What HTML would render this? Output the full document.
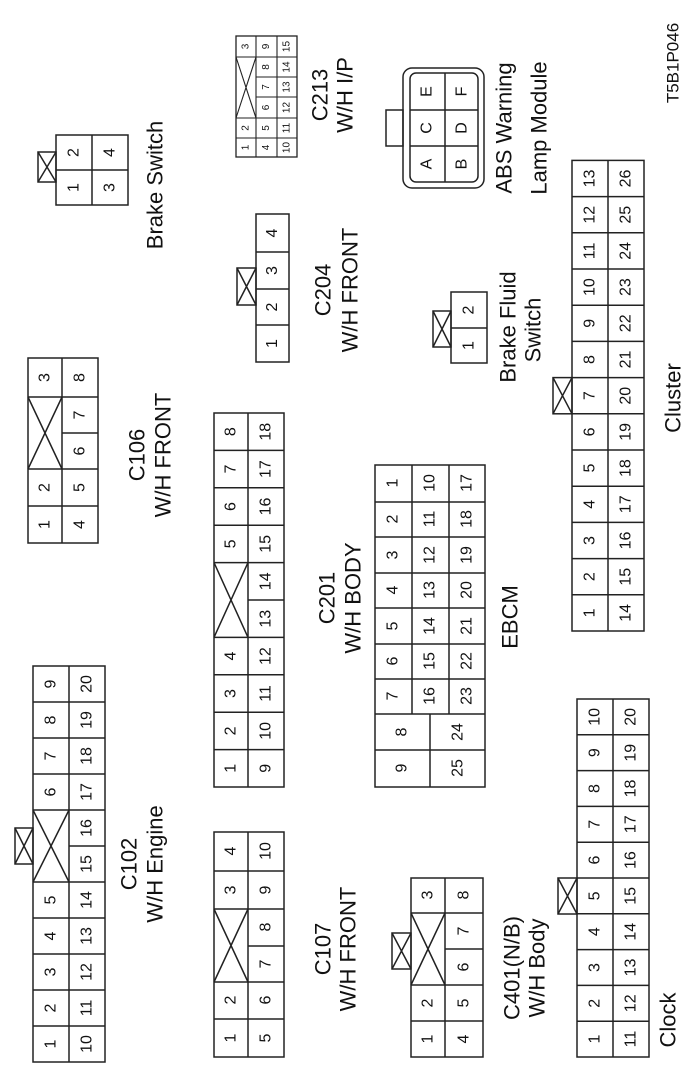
<!DOCTYPE html>
<html><head><meta charset="utf-8"><style>
html,body{margin:0;padding:0;background:#fff;}
svg{display:block;}
text{font-family:"Liberation Sans",sans-serif;fill:#111;}
.n{font-size:16px;}
.s{font-size:10px;}
.l{font-size:22px;}
</style></head><body>
<svg width="700" height="1077" viewBox="0 0 700 1077" xmlns="http://www.w3.org/2000/svg">
<g fill="none" stroke="#222" stroke-width="1.5">
<rect x="33" y="666" width="72" height="396"/>
<line x1="69" y1="666" x2="69" y2="1062"/>
<path d="M33 1026H105M33 990H105M33 954H105M33 918H105M33 882H105M69 846H105M33 810H105M33 774H105M33 738H105M33 702H105"/>
<path d="M33 882L69 810M33 810L69 882"/>
<rect x="15" y="828" width="18" height="36"/><path d="M15 828L33 864M15 864L33 828"/>
<rect x="214" y="413" width="70" height="374"/>
<line x1="248" y1="413" x2="248" y2="787"/>
<path d="M214 749.6H284M214 712.2H284M214 674.8H284M214 637.4H284M248 600H284M214 562.6H284M214 525.2H284M214 487.8H284M214 450.4H284"/>
<path d="M214 637.4L248 562.6M214 562.6L248 637.4"/>
<rect x="375" y="465" width="110" height="322"/>
<path d="M412 465V714M449 465V714M430 714V787"/>
<path d="M375 502H485M375 537H485M375 573H485M375 608H485M375 644H485M375 679H485M375 714H485M375 750H485"/>
<rect x="214" y="832" width="70" height="225"/>
<line x1="248" y1="832" x2="248" y2="1057"/>
<path d="M214 1019H284M214 982H284M248 946H284M214 909H284M214 871H284"/>
<path d="M214 982L248 909M214 909L248 982"/>
<rect x="411" y="878" width="72" height="179"/>
<line x1="445" y1="878" x2="445" y2="1057"/>
<path d="M411 1021H483M411 985H483M445 949H483M411 913H483"/>
<path d="M411 985L445 913M411 913L445 985"/>
<rect x="392" y="933" width="19" height="36"/><path d="M392 933L411 969M392 969L411 933"/>
<rect x="577" y="699" width="72" height="358"/>
<line x1="613" y1="699" x2="613" y2="1057"/>
<path d="M577 1021.2H649M577 985.4H649M577 949.6H649M577 913.8H649M577 878H649M577 842.2H649M577 806.4H649M577 770.6H649M577 734.8H649"/>
<rect x="558" y="878" width="19" height="36"/><path d="M558 878L577 914M558 914L577 878"/>
<rect x="572" y="160.4" width="72" height="470.6"/>
<line x1="608" y1="160.4" x2="608" y2="631"/>
<path d="M572 594.8H644M572 558.6H644M572 522.4H644M572 486.2H644M572 450H644M572 413.8H644M572 377.6H644M572 341.4H644M572 305.2H644M572 269H644M572 232.8H644M572 196.6H644"/>
<rect x="553" y="377.6" width="19" height="36.2"/><path d="M553 377.6L572 413.8M553 413.8L572 377.6"/>
<rect x="28" y="358" width="70" height="185"/>
<line x1="62" y1="358" x2="62" y2="543"/>
<path d="M28 506H98M28 469H98M62 433H98M28 397H98"/>
<path d="M28 469L62 397M28 397L62 469"/>
<rect x="56" y="135" width="72" height="70"/>
<path d="M92 135V205M56 170H128"/>
<rect x="38" y="152" width="18" height="30"/><path d="M38 152L56 182M38 182L56 152"/>
<rect x="256" y="214" width="33" height="148"/>
<path d="M256 252H289M256 289H289M256 325H289"/>
<rect x="237" y="268" width="19" height="37"/><path d="M237 268L256 305M237 305L256 268"/>
<rect x="236" y="36" width="61" height="121" stroke-width="1.3"/>
<path stroke-width="1.1" d="M256 36V157M277 36V157M236 57H297M256 77H297M256 97H297M236 118H297M236 138H297"/>
<path stroke-width="1.1" d="M236 57L256 118M236 118L256 57"/>
<rect x="451" y="292" width="36" height="71"/>
<path d="M451 328H487"/>
<rect x="433" y="311" width="18" height="36"/><path d="M433 311L451 347M433 347L451 311"/>
<rect x="403" y="68" width="81" height="120" rx="9"/>
<rect x="410" y="73" width="68" height="109" rx="6"/>
<path d="M445 73V182M410 110H478M410 146H478"/>
<rect x="386" y="110" width="17" height="36"/>
</g>
<g class="n" text-anchor="middle" dominant-baseline="central">
<text transform="translate(51,1044) rotate(-90)">1</text>
<text transform="translate(51,1008) rotate(-90)">2</text>
<text transform="translate(51,972) rotate(-90)">3</text>
<text transform="translate(51,936) rotate(-90)">4</text>
<text transform="translate(51,900) rotate(-90)">5</text>
<text transform="translate(51,792) rotate(-90)">6</text>
<text transform="translate(51,756) rotate(-90)">7</text>
<text transform="translate(51,720) rotate(-90)">8</text>
<text transform="translate(51,684) rotate(-90)">9</text>
<text transform="translate(87,1044) rotate(-90)">10</text>
<text transform="translate(87,1008) rotate(-90)">11</text>
<text transform="translate(87,972) rotate(-90)">12</text>
<text transform="translate(87,936) rotate(-90)">13</text>
<text transform="translate(87,900) rotate(-90)">14</text>
<text transform="translate(87,864) rotate(-90)">15</text>
<text transform="translate(87,828) rotate(-90)">16</text>
<text transform="translate(87,792) rotate(-90)">17</text>
<text transform="translate(87,756) rotate(-90)">18</text>
<text transform="translate(87,720) rotate(-90)">19</text>
<text transform="translate(87,684) rotate(-90)">20</text>
<text transform="translate(231,768.3) rotate(-90)">1</text>
<text transform="translate(231,730.9) rotate(-90)">2</text>
<text transform="translate(231,693.5) rotate(-90)">3</text>
<text transform="translate(231,656.1) rotate(-90)">4</text>
<text transform="translate(231,543.9) rotate(-90)">5</text>
<text transform="translate(231,506.5) rotate(-90)">6</text>
<text transform="translate(231,469.1) rotate(-90)">7</text>
<text transform="translate(231,431.7) rotate(-90)">8</text>
<text transform="translate(266,768.3) rotate(-90)">9</text>
<text transform="translate(266,730.9) rotate(-90)">10</text>
<text transform="translate(266,693.5) rotate(-90)">11</text>
<text transform="translate(266,656.1) rotate(-90)">12</text>
<text transform="translate(266,618.7) rotate(-90)">13</text>
<text transform="translate(266,581.3) rotate(-90)">14</text>
<text transform="translate(266,543.9) rotate(-90)">15</text>
<text transform="translate(266,506.5) rotate(-90)">16</text>
<text transform="translate(266,469.1) rotate(-90)">17</text>
<text transform="translate(266,431.7) rotate(-90)">18</text>
<text transform="translate(393,483) rotate(-90)">1</text>
<text transform="translate(393,519) rotate(-90)">2</text>
<text transform="translate(393,555) rotate(-90)">3</text>
<text transform="translate(393,590) rotate(-90)">4</text>
<text transform="translate(393,626) rotate(-90)">5</text>
<text transform="translate(393,661) rotate(-90)">6</text>
<text transform="translate(393,696) rotate(-90)">7</text>
<text transform="translate(402,732) rotate(-90)">8</text>
<text transform="translate(402,768) rotate(-90)">9</text>
<text transform="translate(430,483) rotate(-90)">10</text>
<text transform="translate(430,519) rotate(-90)">11</text>
<text transform="translate(430,555) rotate(-90)">12</text>
<text transform="translate(430,590) rotate(-90)">13</text>
<text transform="translate(430,626) rotate(-90)">14</text>
<text transform="translate(430,661) rotate(-90)">15</text>
<text transform="translate(430,696) rotate(-90)">16</text>
<text transform="translate(467,483) rotate(-90)">17</text>
<text transform="translate(467,519) rotate(-90)">18</text>
<text transform="translate(467,555) rotate(-90)">19</text>
<text transform="translate(467,590) rotate(-90)">20</text>
<text transform="translate(467,626) rotate(-90)">21</text>
<text transform="translate(467,661) rotate(-90)">22</text>
<text transform="translate(467,696) rotate(-90)">23</text>
<text transform="translate(458,732) rotate(-90)">24</text>
<text transform="translate(458,768) rotate(-90)">25</text>
<text transform="translate(231,1038) rotate(-90)">1</text>
<text transform="translate(231,1000) rotate(-90)">2</text>
<text transform="translate(231,890) rotate(-90)">3</text>
<text transform="translate(231,851) rotate(-90)">4</text>
<text transform="translate(266,1038) rotate(-90)">5</text>
<text transform="translate(266,1000) rotate(-90)">6</text>
<text transform="translate(266,964) rotate(-90)">7</text>
<text transform="translate(266,927) rotate(-90)">8</text>
<text transform="translate(266,890) rotate(-90)">9</text>
<text transform="translate(266,851) rotate(-90)">10</text>
<text transform="translate(428,1039) rotate(-90)">1</text>
<text transform="translate(428,1003) rotate(-90)">2</text>
<text transform="translate(428,895) rotate(-90)">3</text>
<text transform="translate(464,1039) rotate(-90)">4</text>
<text transform="translate(464,1003) rotate(-90)">5</text>
<text transform="translate(464,967) rotate(-90)">6</text>
<text transform="translate(464,931) rotate(-90)">7</text>
<text transform="translate(464,895) rotate(-90)">8</text>
<text transform="translate(595,1039.1) rotate(-90)">1</text>
<text transform="translate(595,1003.3) rotate(-90)">2</text>
<text transform="translate(595,967.5) rotate(-90)">3</text>
<text transform="translate(595,931.7) rotate(-90)">4</text>
<text transform="translate(595,895.9) rotate(-90)">5</text>
<text transform="translate(595,860.1) rotate(-90)">6</text>
<text transform="translate(595,824.3) rotate(-90)">7</text>
<text transform="translate(595,788.5) rotate(-90)">8</text>
<text transform="translate(595,752.7) rotate(-90)">9</text>
<text transform="translate(595,716.9) rotate(-90)">10</text>
<text transform="translate(631,1039.1) rotate(-90)">11</text>
<text transform="translate(631,1003.3) rotate(-90)">12</text>
<text transform="translate(631,967.5) rotate(-90)">13</text>
<text transform="translate(631,931.7) rotate(-90)">14</text>
<text transform="translate(631,895.9) rotate(-90)">15</text>
<text transform="translate(631,860.1) rotate(-90)">16</text>
<text transform="translate(631,824.3) rotate(-90)">17</text>
<text transform="translate(631,788.5) rotate(-90)">18</text>
<text transform="translate(631,752.7) rotate(-90)">19</text>
<text transform="translate(631,716.9) rotate(-90)">20</text>
<text transform="translate(590,612.9) rotate(-90)">1</text>
<text transform="translate(590,576.7) rotate(-90)">2</text>
<text transform="translate(590,540.5) rotate(-90)">3</text>
<text transform="translate(590,504.3) rotate(-90)">4</text>
<text transform="translate(590,468.1) rotate(-90)">5</text>
<text transform="translate(590,431.9) rotate(-90)">6</text>
<text transform="translate(590,395.7) rotate(-90)">7</text>
<text transform="translate(590,359.5) rotate(-90)">8</text>
<text transform="translate(590,323.3) rotate(-90)">9</text>
<text transform="translate(590,287.1) rotate(-90)">10</text>
<text transform="translate(590,250.9) rotate(-90)">11</text>
<text transform="translate(590,214.7) rotate(-90)">12</text>
<text transform="translate(590,178.5) rotate(-90)">13</text>
<text transform="translate(626,612.9) rotate(-90)">14</text>
<text transform="translate(626,576.7) rotate(-90)">15</text>
<text transform="translate(626,540.5) rotate(-90)">16</text>
<text transform="translate(626,504.3) rotate(-90)">17</text>
<text transform="translate(626,468.1) rotate(-90)">18</text>
<text transform="translate(626,431.9) rotate(-90)">19</text>
<text transform="translate(626,395.7) rotate(-90)">20</text>
<text transform="translate(626,359.5) rotate(-90)">21</text>
<text transform="translate(626,323.3) rotate(-90)">22</text>
<text transform="translate(626,287.1) rotate(-90)">23</text>
<text transform="translate(626,250.9) rotate(-90)">24</text>
<text transform="translate(626,214.7) rotate(-90)">25</text>
<text transform="translate(626,178.5) rotate(-90)">26</text>
<text transform="translate(45,524.5) rotate(-90)">1</text>
<text transform="translate(45,487.5) rotate(-90)">2</text>
<text transform="translate(45,377.5) rotate(-90)">3</text>
<text transform="translate(80,524.5) rotate(-90)">4</text>
<text transform="translate(80,487.5) rotate(-90)">5</text>
<text transform="translate(80,451) rotate(-90)">6</text>
<text transform="translate(80,415) rotate(-90)">7</text>
<text transform="translate(80,377.5) rotate(-90)">8</text>
<text transform="translate(74,187.5) rotate(-90)">1</text>
<text transform="translate(74,152.5) rotate(-90)">2</text>
<text transform="translate(110,187.5) rotate(-90)">3</text>
<text transform="translate(110,152.5) rotate(-90)">4</text>
<text transform="translate(272.5,343.5) rotate(-90)">1</text>
<text transform="translate(272.5,307) rotate(-90)">2</text>
<text transform="translate(272.5,270.5) rotate(-90)">3</text>
<text transform="translate(272.5,233) rotate(-90)">4</text>
<text transform="translate(469,345.5) rotate(-90)">1</text>
<text transform="translate(469,310) rotate(-90)">2</text>
<text transform="translate(427,164) rotate(-90)">A</text>
<text transform="translate(462,164) rotate(-90)">B</text>
<text transform="translate(427,128) rotate(-90)">C</text>
<text transform="translate(462,128) rotate(-90)">D</text>
<text transform="translate(427,91.5) rotate(-90)">E</text>
<text transform="translate(462,91.5) rotate(-90)">F</text>
</g>
<g class="s" text-anchor="middle" dominant-baseline="central">
<text transform="translate(246,46.5) rotate(-90)">3</text>
<text transform="translate(246,128) rotate(-90)">2</text>
<text transform="translate(246,147.5) rotate(-90)">1</text>
<text transform="translate(266.5,46.5) rotate(-90)">9</text>
<text transform="translate(266.5,67) rotate(-90)">8</text>
<text transform="translate(266.5,87) rotate(-90)">7</text>
<text transform="translate(266.5,107.5) rotate(-90)">6</text>
<text transform="translate(266.5,128) rotate(-90)">5</text>
<text transform="translate(266.5,147.5) rotate(-90)">4</text>
<text transform="translate(287,46.5) rotate(-90)">15</text>
<text transform="translate(287,67) rotate(-90)">14</text>
<text transform="translate(287,87) rotate(-90)">13</text>
<text transform="translate(287,107.5) rotate(-90)">12</text>
<text transform="translate(287,128) rotate(-90)">11</text>
<text transform="translate(287,147.5) rotate(-90)">10</text>
</g>
<g class="l" text-anchor="middle" dominant-baseline="central">
<text transform="translate(129,864) rotate(-90)">C102</text>
<text transform="translate(155,864) rotate(-90)">W/H Engine</text>
<text transform="translate(327,598) rotate(-90)">C201</text>
<text transform="translate(353,598) rotate(-90)">W/H BODY</text>
<text transform="translate(510,617) rotate(-90)">EBCM</text>
<text transform="translate(323,949) rotate(-90)">C107</text>
<text transform="translate(348,949) rotate(-90)">W/H FRONT</text>
<text transform="translate(512,968) rotate(-90)">C401(N/B)</text>
<text transform="translate(537,968) rotate(-90)">W/H Body</text>
<text transform="translate(668,1020) rotate(-90)">Clock</text>
<text transform="translate(673,398) rotate(-90)">Cluster</text>
<text transform="translate(137,455) rotate(-90)">C106</text>
<text transform="translate(163,455) rotate(-90)">W/H FRONT</text>
<text transform="translate(155,185) rotate(-90)">Brake Switch</text>
<text transform="translate(323,290) rotate(-90)">C204</text>
<text transform="translate(350,290) rotate(-90)">W/H FRONT</text>
<text transform="translate(320,95) rotate(-90)">C213</text>
<text transform="translate(345,95) rotate(-90)">W/H I/P</text>
<text transform="translate(508,327) rotate(-90)">Brake Fluid</text>
<text transform="translate(533,330) rotate(-90)">Switch</text>
<text transform="translate(504,128) rotate(-90)">ABS Warning</text>
<text transform="translate(539,128) rotate(-90)">Lamp Module</text>
<text transform="translate(673,63) rotate(-90)" style="font-size:17px">T5B1P046</text>
</g>
</svg>
</body></html>
